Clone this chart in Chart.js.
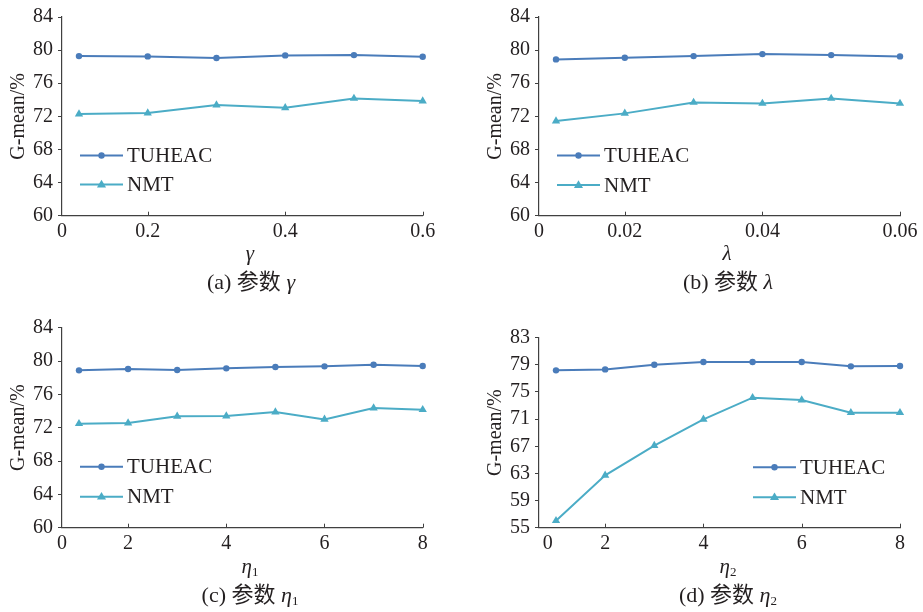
<!DOCTYPE html>
<html>
<head>
<meta charset="utf-8">
<script src="https://cdn.jsdelivr.net/npm/chart.js@4.4.1/dist/chart.umd.min.js"></script>
<style>
  body { margin: 0; background: #fff; width: 923px; height: 612px; position: relative; overflow: hidden;
         font-family: "Liberation Serif", "Noto Sans CJK SC", serif; color: #231f20; }
  .box { position: absolute; }
  .txt { position: absolute; font-size: 21px; line-height: 1; white-space: nowrap; transform: translate(-50%, -50%); }
  .cap { font-size: 22px; }
  .txt i { font-style: italic; }
  .txt sub { font-size: 13px; vertical-align: -3px; font-style: normal; }
</style>
</head>
<body>
<div class="box" id="boxA" style="left:0;top:0;width:440px;height:246px"><canvas id="chartA"></canvas></div>
<div class="box" id="boxB" style="left:477px;top:0;width:446px;height:246px"><canvas id="chartB"></canvas></div>
<div class="box" id="boxC" style="left:0;top:310px;width:440px;height:246px"><canvas id="chartC"></canvas></div>
<div class="box" id="boxD" style="left:477px;top:310px;width:446px;height:246px"><canvas id="chartD"></canvas></div>

<div class="txt" style="left:250px;top:253px"><i>γ</i></div>
<div class="txt cap" style="left:251px;top:282px">(a) 参数 <i>γ</i></div>
<div class="txt" style="left:727px;top:253px"><i>λ</i></div>
<div class="txt cap" style="left:728px;top:282px">(b) 参数 <i>λ</i></div>
<div class="txt" style="left:250px;top:567px"><i>η</i><sub>1</sub></div>
<div class="txt cap" style="left:250px;top:595px">(c) 参数 <i>η</i><sub>1</sub></div>
<div class="txt" style="left:728px;top:567px"><i>η</i><sub>2</sub></div>
<div class="txt cap" style="left:728px;top:595px">(d) 参数 <i>η</i><sub>2</sub></div>

<script>
// 数据
const seriesNames = ['TUHEAC', 'NMT'];

const gammaX = [0.1, 0.2, 0.3, 0.4, 0.5, 0.6];
const gammaTUHEAC = [79.28, 79.24, 79.04, 79.36, 79.40, 79.20];
const gammaNMT = [72.28, 72.40, 73.36, 73.04, 74.16, 73.84];
const gammaTicks = [0.0753, 0.2, 0.4, 0.6];
const gammaTickLabels = ['0', '0.2', '0.4', '0.6'];

const lambdaX = [0.01, 0.02, 0.03, 0.04, 0.05, 0.06];
const lambdaTUHEAC = [78.88, 79.08, 79.28, 79.52, 79.40, 79.24];
const lambdaNMT = [71.44, 72.36, 73.68, 73.56, 74.16, 73.56];
const lambdaTicks = [0.00753, 0.02, 0.04, 0.06];
const lambdaTickLabels = ['0', '0.02', '0.04', '0.06'];

const eta1X = [1, 2, 3, 4, 5, 6, 7, 8];
const eta1TUHEAC = [78.88, 79.04, 78.92, 79.12, 79.28, 79.36, 79.56, 79.40];
const eta1NMT = [72.48, 72.56, 73.36, 73.40, 73.88, 73.00, 74.36, 74.16];
const eta1Ticks = [0.654, 2, 4, 6, 8];
const eta1TickLabels = ['0', '2', '4', '6', '8'];

const eta2X = [1, 2, 3, 4, 5, 6, 7, 8];
const eta2TUHEAC = [78.19, 78.33, 79.02, 79.41, 79.41, 79.41, 78.78, 78.83];
const eta2NMT = [56.03, 62.72, 67.09, 70.97, 74.16, 73.82, 71.95, 71.95];
const eta2Ticks = [0.83, 2, 4, 6, 8];
const eta2TickLabels = ['0', '2', '4', '6', '8'];

const yTicksA = [60, 64, 68, 72, 76, 80, 84];
const yTicksD = [55, 59, 63, 67, 71, 75, 79, 83];

// 样式
const FONT = '"Liberation Serif", "Noto Sans CJK SC", serif';
const INK = '#231f20';
const AXIS = '#404040';
const BLUE = '#4a7cba';
const TEAL = '#4bacc6';

// 图内图例：线段 + 标记
const insideLegend = {
    id: 'insideLegend',
    afterDraw(chart, args, opts) {
        const { ctx, chartArea } = chart;
        ctx.save();
        chart.data.datasets.forEach((ds, i) => {
            const x0 = chartArea.left + opts.x;
            const y = chartArea.top + opts.y + i * opts.gap;
            ctx.strokeStyle = ds.borderColor;
            ctx.lineWidth = ds.borderWidth;
            ctx.beginPath();
            ctx.moveTo(x0, y);
            ctx.lineTo(x0 + 43, y);
            ctx.stroke();
            drawMarker(ctx, ds.pointStyle, x0 + 21.5, y, ds.pointRadius, ds.borderColor);
            ctx.fillStyle = INK;
            ctx.font = '21px ' + FONT;
            ctx.textBaseline = 'middle';
            ctx.fillText(ds.label, x0 + 47, y + 1);
        });
        ctx.restore();
    }
};

function drawMarker(ctx, style, x, y, r, color) {
    ctx.fillStyle = color;
    ctx.beginPath();
    if (style === 'triangle') {
        ctx.moveTo(x, y - r);
        ctx.lineTo(x + r * 0.95, y + r * 0.6);
        ctx.lineTo(x - r * 0.95, y + r * 0.6);
        ctx.closePath();
    } else {
        ctx.arc(x, y, r, 0, Math.PI * 2);
    }
    ctx.fill();
}

// x 轴向内的小刻度
const innerTicks = {
    id: 'innerTicks',
    afterDraw(chart) {
        const { ctx, chartArea } = chart;
        const s = chart.scales.x;
        ctx.save();
        ctx.strokeStyle = AXIS;
        ctx.lineWidth = 1;
        ctx.beginPath();
        s.ticks.forEach((t, i) => {
            if (i === 0) return;
            const px = Math.round(s.getPixelForValue(t.value)) + 0.5;
            ctx.moveTo(px, chartArea.bottom);
            ctx.lineTo(px, chartArea.bottom - 4);
        });
        ctx.stroke();
        ctx.restore();
    }
};

function makePanel(id, cfg) {
    const ctx = document.getElementById(id).getContext('2d');
    const toPts = (xs, ys) => xs.map((x, i) => ({ x: x, y: ys[i] }));

    return new Chart(ctx, {
        type: 'line',
        data: {
            datasets: [{
                label: seriesNames[0],
                data: toPts(cfg.x, cfg.tu),
                borderColor: BLUE,
                backgroundColor: BLUE,
                borderWidth: 2,
                pointStyle: 'circle',
                pointRadius: 3.2,
                pointBorderWidth: 0,
                pointBackgroundColor: BLUE,
                tension: 0,
                clip: false
            }, {
                label: seriesNames[1],
                data: toPts(cfg.x, cfg.nmt),
                borderColor: TEAL,
                backgroundColor: TEAL,
                borderWidth: 2,
                pointStyle: 'triangle',
                pointRadius: 4.8,
                pointBorderWidth: 0,
                pointBackgroundColor: TEAL,
                tension: 0,
                clip: false
            }]
        },
        plugins: [insideLegend, innerTicks],
        options: {
            responsive: true,
            maintainAspectRatio: false,
            animation: false,
            events: [],
            layout: { padding: { top: cfg.padTop, right: cfg.padRight, left: 0, bottom: 0 } },
            plugins: {
                legend: { display: false },
                tooltip: { enabled: false },
                insideLegend: cfg.legend
            },
            scales: {
                x: {
                    type: 'linear',
                    min: cfg.xMin,
                    max: cfg.x[cfg.x.length - 1],
                    afterBuildTicks: (s) => { s.ticks = cfg.xTicks.map(v => ({ value: v })); },
                    afterFit: (s) => { s.height = cfg.xHeight; },
                    ticks: {
                        autoSkip: false,
                        maxRotation: 0,
                        padding: 4,
                        color: INK,
                        font: { family: FONT, size: 20 },
                        callback: (v, i) => cfg.xLabels[i]
                    },
                    grid: { drawOnChartArea: false, drawTicks: false },
                    border: { display: true, color: AXIS, width: 1.2 }
                },
                y: {
                    min: cfg.yTicks[0],
                    max: cfg.yTicks[cfg.yTicks.length - 1],
                    afterBuildTicks: (s) => { s.ticks = cfg.yTicks.map(v => ({ value: v })); },
                    afterFit: (s) => { s.width = 62; },
                    ticks: {
                        padding: 5,
                        color: INK,
                        font: { family: FONT, size: 20 }
                    },
                    grid: { drawOnChartArea: false, drawTicks: true, tickLength: 4, color: AXIS },
                    border: { display: true, color: AXIS, width: 1.2 },
                    title: {
                        display: true,
                        text: 'G-mean/%',
                        color: INK,
                        font: { family: FONT, size: 20 },
                        padding: { top: 7, bottom: 0 }
                    }
                }
            }
        }
    });
}

makePanel('chartA', {
    x: gammaX, tu: gammaTUHEAC, nmt: gammaNMT, xMin: gammaTicks[0],
    xTicks: gammaTicks, xLabels: gammaTickLabels, yTicks: yTicksA,
    padTop: 15.7, padRight: 17.3, xHeight: 30.3,
    legend: { x: 18, y: 138.5, gap: 29 }
});
makePanel('chartB', {
    x: lambdaX, tu: lambdaTUHEAC, nmt: lambdaNMT, xMin: lambdaTicks[0],
    xTicks: lambdaTicks, xLabels: lambdaTickLabels, yTicks: yTicksA,
    padTop: 15.7, padRight: 23, xHeight: 30.3,
    legend: { x: 18, y: 138.5, gap: 29.5 }
});
makePanel('chartC', {
    x: eta1X, tu: eta1TUHEAC, nmt: eta1NMT, xMin: eta1Ticks[0],
    xTicks: eta1Ticks, xLabels: eta1TickLabels, yTicks: yTicksA,
    padTop: 17.7, padRight: 17.3, xHeight: 28.3,
    legend: { x: 18, y: 139, gap: 30 }
});
makePanel('chartD', {
    x: eta2X, tu: eta2TUHEAC, nmt: eta2NMT, xMin: 0.654,
    xTicks: eta2Ticks, xLabels: eta2TickLabels, yTicks: yTicksD,
    padTop: 27.7, padRight: 23, xHeight: 28.3,
    legend: { x: 214, y: 129.5, gap: 30 }
});
</script>
</body>
</html>
